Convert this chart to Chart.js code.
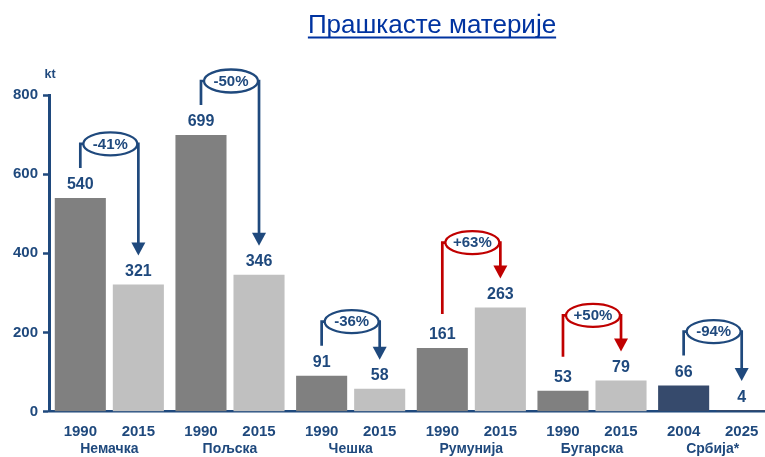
<!DOCTYPE html>
<html>
<head>
<meta charset="utf-8">
<script src="https://cdn.jsdelivr.net/npm/chart.js@4.4.1/dist/chart.umd.min.js"></script>
<style>
  html, body { margin: 0; padding: 0; background: #ffffff; overflow: hidden; }
  #wrap { position: relative; width: 773px; height: 457px; }
</style>
</head>
<body>
<div id="wrap"><canvas id="c"></canvas></div>
<script>
// ---- data ----
const countries = ['Немачка', 'Пољска', 'Чешка', 'Румунија', 'Бугарска', 'Србија*'];
const firstYears = ['1990', '1990', '1990', '1990', '1990', '2004'];
const secondYears = ['2015', '2015', '2015', '2015', '2015', '2025'];
const firstValues = [540, 699, 91, 161, 53, 66];
const secondValues = [321, 346, 58, 263, 79, 4];
const changes = ['-41%', '-50%', '-36%', '+63%', '+50%', '-94%'];
const yTicks = [0, 200, 400, 600, 800];
const titleText = 'Прашкасте материје';
const unitText = 'kt';

// ---- styles ----
const NAVY = '#1F497D';
const RED = '#C00000';
const firstColors = ['#808080', '#808080', '#808080', '#808080', '#808080', '#364A6C'];
const secondColors = ['#C0C0C0', '#C0C0C0', '#C0C0C0', '#C0C0C0', '#C0C0C0', '#364A6C'];
const FONT = '"Liberation Sans", Arial, sans-serif';

const decorPlugin = {
  id: 'decor',
  afterDraw(chart) {
    const ctx = chart.ctx;
    const m0 = chart.getDatasetMeta(0);
    const m1 = chart.getDatasetMeta(1);
    ctx.save();
    // title
    ctx.fillStyle = '#0033A0';
    ctx.font = '26px ' + FONT;
    ctx.textAlign = 'center';
    ctx.textBaseline = 'alphabetic';
    const tx = 432, ty = 33;
    ctx.fillText(titleText, tx, ty);
    const tw = ctx.measureText(titleText).width;
    ctx.fillRect(tx - tw / 2, ty + 3.5, tw, 2);
    // unit
    ctx.fillStyle = NAVY;
    ctx.font = 'bold 12.5px ' + FONT;
    ctx.textBaseline = 'middle';
    ctx.fillText(unitText, 50, 75);

    // value labels and year labels
    const metas = [[m0, firstValues, firstYears], [m1, secondValues, secondYears]];
    metas.forEach(([meta, vals, yrs]) => {
      meta.data.forEach((bar, i) => {
        ctx.fillStyle = NAVY;
        ctx.font = 'bold 16px ' + FONT;
        ctx.textAlign = 'center';
        ctx.textBaseline = 'middle';
        ctx.fillText(String(vals[i]), bar.x, Math.min(bar.y, chart.chartArea.bottom - 1) - 13);
        ctx.font = 'bold 15px ' + FONT;
        ctx.fillText(yrs[i], bar.x, 432);
      });
    });

    // change annotations
    changes.forEach((txt, i) => {
      const b1 = m0.data[i], b2 = m1.data[i];
      const inc = secondValues[i] > firstValues[i];
      const col = inc ? RED : NAVY;
      const top = Math.min(b1.y, b2.y);
      const level = top - (inc ? 65 : 54);
      const start = b1.y - (inc ? 34 : 30);
      const tip = b2.y - 29;
      const cx = (b1.x + b2.x) / 2 + 1;
      ctx.strokeStyle = col;
      ctx.lineWidth = 2.7;
      ctx.lineJoin = 'miter';
      ctx.beginPath();
      ctx.moveTo(b1.x, start);
      ctx.lineTo(b1.x, level);
      ctx.lineTo(b2.x, level);
      ctx.lineTo(b2.x, tip - 12);
      ctx.stroke();
      // arrow head
      ctx.fillStyle = col;
      ctx.beginPath();
      ctx.moveTo(b2.x - 7, tip - 13);
      ctx.lineTo(b2.x + 7, tip - 13);
      ctx.lineTo(b2.x, tip);
      ctx.closePath();
      ctx.fill();
      // ellipse
      ctx.beginPath();
      ctx.ellipse(cx, level, 27, 11.5, 0, 0, Math.PI * 2);
      ctx.fillStyle = '#ffffff';
      ctx.fill();
      ctx.lineWidth = 2.3;
      ctx.stroke();
      ctx.fillStyle = NAVY;
      ctx.font = 'bold 15px ' + FONT;
      ctx.textAlign = 'center';
      ctx.textBaseline = 'middle';
      ctx.fillText(txt, cx, level + 0.5);
    });
    ctx.restore();
  }
};

new Chart(document.getElementById('c'), {
  type: 'bar',
  data: {
    labels: countries,
    datasets: [
      { label: 'first', data: firstValues, backgroundColor: firstColors,
        categoryPercentage: 0.962, barPercentage: 0.88 },
      { label: 'second', data: secondValues, backgroundColor: secondColors,
        categoryPercentage: 0.962, barPercentage: 0.88 }
    ]
  },
  options: {
    responsive: true,
    maintainAspectRatio: false,
    animation: false,
    layout: { padding: { top: 95, right: 0, bottom: 0, left: 0 } },
    plugins: { legend: { display: false }, tooltip: { enabled: false }, title: { display: false } },
    scales: {
      x: {
        offset: true,
        grid: { display: false, drawTicks: false },
        border: { display: true, color: NAVY, width: 2.5 },
        ticks: { color: NAVY, font: { family: FONT, size: 14, weight: 'bold' }, padding: 29, maxRotation: 0 },
        afterFit(scale) { scale.height = 45.3; }
      },
      y: {
        min: 0, max: 800,
        afterBuildTicks(scale) { scale.ticks = yTicks.map(v => ({ value: v })); },
        grid: { drawOnChartArea: false, drawTicks: true, tickLength: 6, tickColor: NAVY, tickWidth: 2.5 },
        border: { display: true, color: NAVY, width: 3 },
        ticks: { color: NAVY, font: { family: FONT, size: 15, weight: 'bold' }, padding: 5 },
        afterFit(scale) { scale.width = 49; }
      }
    }
  },
  plugins: [decorPlugin]
});
</script>
</body>
</html>
